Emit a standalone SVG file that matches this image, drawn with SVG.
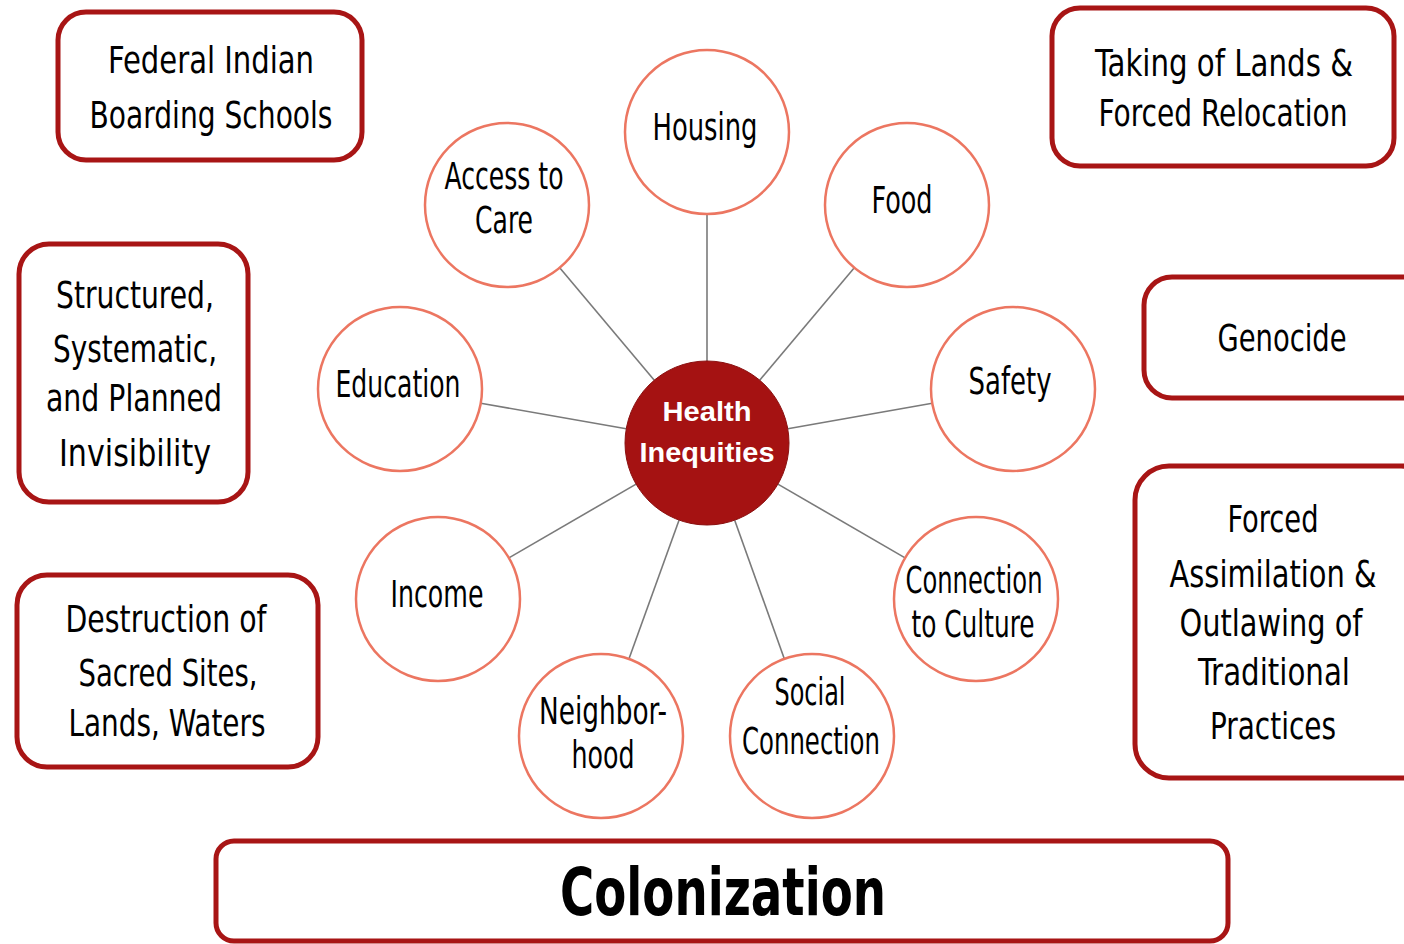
<svg xmlns="http://www.w3.org/2000/svg" width="1404" height="944" viewBox="0 0 1404 944">
<style>
.box{fill:#fff;stroke:#A81515;stroke-width:5}
.sat{fill:#fff;stroke:#EC7661;stroke-width:2.5}
.hub{fill:#A51212;stroke:#8a1010;stroke-width:1}
.t{font-family:"DejaVu Sans Condensed","Liberation Sans Narrow","Liberation Sans",sans-serif;fill:#000;text-anchor:middle}
.bt{font-size:38px}
.ct{font-size:37px}
.ht{font-family:"Liberation Sans","DejaVu Sans",sans-serif;font-weight:bold;font-size:28px;fill:#fff;text-anchor:middle}
.col{font-family:"DejaVu Sans Condensed","Liberation Sans",sans-serif;font-weight:bold;font-size:66px;fill:#000;text-anchor:middle}
.ln{stroke:#7a7a7a;stroke-width:1.6;fill:none}
</style>
<rect width="1404" height="944" fill="#fff"/>
<g id="connectors">
<line class="ln" x1="707" y1="361" x2="707" y2="214"/>
<line class="ln" x1="654.3" y1="380.2" x2="559.7" y2="267.8"/>
<line class="ln" x1="759.7" y1="380.2" x2="854.3" y2="267.8"/>
<line class="ln" x1="626.2" y1="428.8" x2="480.8" y2="403.2"/>
<line class="ln" x1="787.8" y1="428.7" x2="932.2" y2="403.3"/>
<line class="ln" x1="636.1" y1="484.1" x2="508.9" y2="557.9"/>
<line class="ln" x1="777.9" y1="484.1" x2="905.1" y2="557.9"/>
<line class="ln" x1="679.1" y1="520.1" x2="628.9" y2="658.9"/>
<line class="ln" x1="734.7" y1="520.2" x2="784.3" y2="658.8"/>
</g>
<g id="hub">
<circle class="hub" cx="707" cy="443" r="82"/>
<text class="ht" x="707" y="421" textLength="89" lengthAdjust="spacingAndGlyphs">Health</text>
<text class="ht" x="707" y="462" textLength="135" lengthAdjust="spacingAndGlyphs">Inequities</text>
</g>
<g id="housing"><circle class="sat" cx="707" cy="132" r="82"/><text class="t ct" x="705" y="140" textLength="105" lengthAdjust="spacingAndGlyphs">Housing</text></g>
<g id="access"><circle class="sat" cx="507" cy="205" r="82"/><text class="t ct" x="504" y="189" textLength="119" lengthAdjust="spacingAndGlyphs">Access to</text><text class="t ct" x="504" y="233" textLength="58" lengthAdjust="spacingAndGlyphs">Care</text></g>
<g id="food"><circle class="sat" cx="907" cy="205" r="82"/><text class="t ct" x="902" y="213" textLength="61" lengthAdjust="spacingAndGlyphs">Food</text></g>
<g id="education"><circle class="sat" cx="400" cy="389" r="82"/><text class="t ct" x="398" y="397" textLength="125" lengthAdjust="spacingAndGlyphs">Education</text></g>
<g id="safety"><circle class="sat" cx="1013" cy="389" r="82"/><text class="t ct" x="1010" y="394" textLength="83" lengthAdjust="spacingAndGlyphs">Safety</text></g>
<g id="income"><circle class="sat" cx="438" cy="599" r="82"/><text class="t ct" x="437" y="607" textLength="93" lengthAdjust="spacingAndGlyphs">Income</text></g>
<g id="culture"><circle class="sat" cx="976" cy="599" r="82"/><text class="t ct" x="974" y="593" textLength="137" lengthAdjust="spacingAndGlyphs">Connection</text><text class="t ct" x="973" y="637" textLength="123" lengthAdjust="spacingAndGlyphs">to Culture</text></g>
<g id="neighborhood"><circle class="sat" cx="601" cy="736" r="82"/><text class="t ct" x="603" y="724" textLength="128" lengthAdjust="spacingAndGlyphs">Neighbor-</text><text class="t ct" x="603" y="768" textLength="63" lengthAdjust="spacingAndGlyphs">hood</text></g>
<g id="social"><circle class="sat" cx="812" cy="736" r="82"/><text class="t ct" x="810" y="705" textLength="71" lengthAdjust="spacingAndGlyphs">Social</text><text class="t ct" x="811" y="754" textLength="138" lengthAdjust="spacingAndGlyphs">Connection</text></g>
<g id="boarding"><rect class="box" x="58" y="12" width="304" height="148" rx="28"/><text class="t bt" x="211" y="73" textLength="206" lengthAdjust="spacingAndGlyphs">Federal Indian</text><text class="t bt" x="211" y="128" textLength="243" lengthAdjust="spacingAndGlyphs">Boarding Schools</text></g>
<g id="lands"><rect class="box" x="1052" y="8" width="342" height="158" rx="28"/><text class="t bt" x="1224" y="76" textLength="258" lengthAdjust="spacingAndGlyphs">Taking of Lands &amp;</text><text class="t bt" x="1223" y="126" textLength="249" lengthAdjust="spacingAndGlyphs">Forced Relocation</text></g>
<g id="invisibility"><rect class="box" x="19" y="244" width="229" height="258" rx="30"/><text class="t bt" x="135" y="308" textLength="158" lengthAdjust="spacingAndGlyphs">Structured,</text><text class="t bt" x="135" y="362" textLength="164" lengthAdjust="spacingAndGlyphs">Systematic,</text><text class="t bt" x="134" y="411" textLength="176" lengthAdjust="spacingAndGlyphs">and Planned</text><text class="t bt" x="135" y="466" textLength="152" lengthAdjust="spacingAndGlyphs">Invisibility</text></g>
<g id="genocide"><rect class="box" x="1144" y="277" width="290" height="121" rx="28"/><text class="t bt" x="1282" y="351" textLength="129" lengthAdjust="spacingAndGlyphs">Genocide</text></g>
<g id="sacred"><rect class="box" x="17" y="575" width="301" height="192" rx="30"/><text class="t bt" x="166" y="632" textLength="201" lengthAdjust="spacingAndGlyphs">Destruction of</text><text class="t bt" x="168" y="686" textLength="179" lengthAdjust="spacingAndGlyphs">Sacred Sites,</text><text class="t bt" x="167" y="736" textLength="197" lengthAdjust="spacingAndGlyphs">Lands, Waters</text></g>
<g id="assimilation"><rect class="box" x="1135" y="466" width="300" height="312" rx="34"/><text class="t bt" x="1273" y="532" textLength="91" lengthAdjust="spacingAndGlyphs">Forced</text><text class="t bt" x="1273" y="587" textLength="207" lengthAdjust="spacingAndGlyphs">Assimilation &amp;</text><text class="t bt" x="1271" y="636" textLength="183" lengthAdjust="spacingAndGlyphs">Outlawing of</text><text class="t bt" x="1274" y="685" textLength="152" lengthAdjust="spacingAndGlyphs">Traditional</text><text class="t bt" x="1273" y="739" textLength="126" lengthAdjust="spacingAndGlyphs">Practices</text></g>
<g id="colonization"><rect class="box" x="216" y="841" width="1012" height="100" rx="18"/><text class="col" x="723" y="915" textLength="326" lengthAdjust="spacingAndGlyphs">Colonization</text></g>
</svg>
